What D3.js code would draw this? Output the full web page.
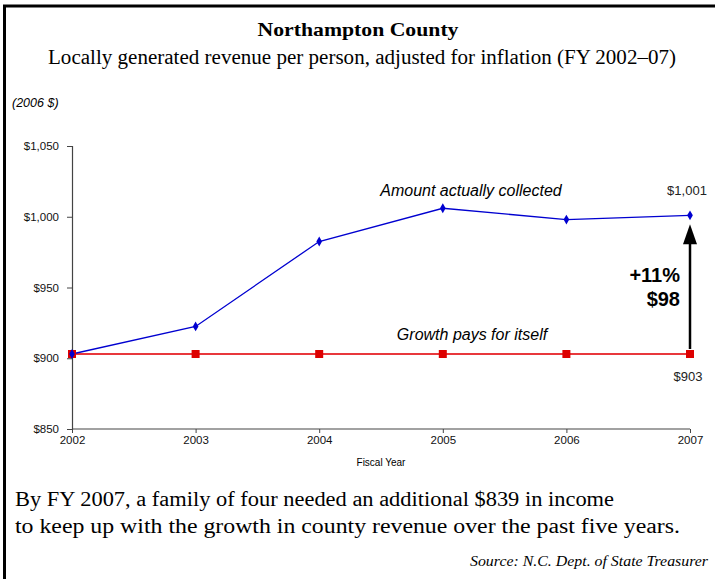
<!DOCTYPE html>
<html><head><meta charset="utf-8">
<script src="https://cdn.jsdelivr.net/npm/d3@7"></script>
<style>body{margin:0;background:#fff}</style>
</head><body>
<script>
const years = [2002, 2003, 2004, 2005, 2006, 2007];
const collected = [903, 922.5, 982.5, 1006, 998, 1001];
const growthPays = [903, 903, 903, 903, 903, 903];
const yTicks = [850, 900, 950, 1000, 1050];

const W = 715, H = 579;
const svg = d3.select("body").append("svg").attr("width", W).attr("height", H);
svg.append("rect").attr("width", W).attr("height", H).attr("fill", "#fff");
// frame
svg.append("line").attr("x1", 3).attr("x2", W).attr("y1", 6).attr("y2", 6).attr("stroke", "#000").attr("stroke-width", 3);
svg.append("line").attr("x1", 4.5).attr("x2", 4.5).attr("y1", 5).attr("y2", H).attr("stroke", "#000").attr("stroke-width", 3);

const serif = "'Liberation Serif', 'Times New Roman', serif";
const sans = "'Liberation Sans', Arial, sans-serif";

function serifText(txt, xPos, yPos, size, len, anchor, opts) {
  const t = svg.append("text").attr("x", xPos).attr("y", yPos).attr("text-anchor", anchor || "start")
    .style("font-family", serif).style("font-size", size + "px")
    .attr("textLength", len).attr("lengthAdjust", "spacingAndGlyphs").text(txt);
  if (opts && opts.bold) t.style("font-weight", "bold");
  if (opts && opts.italic) t.style("font-style", "italic");
  return t;
}

serifText("Northampton County", 358, 36, 19, 201, "middle", {bold: true});
serifText("Locally generated revenue per person, adjusted for inflation (FY 2002–07)", 362, 64, 20, 628, "middle");
svg.append("text").attr("x", 12).attr("y", 107)
  .style("font-family", sans).style("font-style", "italic").style("font-size", "12.5px").text("(2006 $)");

const x = d3.scalePoint().domain(years).range([72, 690]);
const y = d3.scaleLinear().domain([850, 1050]).range([429, 146]);

const yAxis = svg.append("g").attr("transform", "translate(72,0)")
  .call(d3.axisLeft(y).tickValues(yTicks).tickSize(5).tickPadding(8).tickFormat(d => "$" + d3.format(",")(d)));
const xAxis = svg.append("g").attr("transform", "translate(0,429)")
  .call(d3.axisBottom(x).tickSize(4).tickPadding(3).tickFormat(d => String(d)));
[yAxis, xAxis].forEach(g => {
  g.select(".domain").attr("stroke", "#444").attr("stroke-width", 1.2);
  g.selectAll(".tick line").attr("stroke", "#444");
  g.selectAll("text").style("font-family", sans).style("font-size", "11.5px").attr("fill", "#111");
});
xAxis.select(".domain").attr("d", "M72,0H690");

svg.append("text").attr("x", 381).attr("y", 466).attr("text-anchor", "middle")
  .style("font-family", sans).style("font-size", "10px").text("Fiscal Year");

const line = d3.line().x((d, i) => x(years[i])).y(d => y(d));
svg.append("path").datum(growthPays).attr("d", line).attr("fill", "none").attr("stroke", "#e8383c").attr("stroke-width", 2);
svg.append("path").datum(collected).attr("d", line).attr("fill", "none").attr("stroke", "#0000d0").attr("stroke-width", 1.3);

svg.selectAll(".sq").data(growthPays).enter().append("rect")
  .attr("x", (d, i) => x(years[i]) - 4).attr("y", d => y(d) - 4).attr("width", 8).attr("height", 8).attr("fill", "#dd0000");
svg.selectAll(".dm").data(collected).enter().append("path")
  .attr("d", d3.symbol().type(d3.symbolDiamond).size(28))
  .attr("transform", (d, i) => `translate(${x(years[i])},${y(d)})`).attr("fill", "#0000d0");

svg.append("text").attr("x", 471).attr("y", 196).attr("text-anchor", "middle")
  .style("font-family", sans).style("font-style", "italic").style("font-size", "16px").text("Amount actually collected");
svg.append("text").attr("x", 472).attr("y", 340).attr("text-anchor", "middle")
  .style("font-family", sans).style("font-style", "italic").style("font-size", "16px").text("Growth pays for itself");

svg.append("text").attr("x", 687).attr("y", 195).attr("text-anchor", "middle")
  .style("font-family", sans).style("font-size", "13px").attr("fill", "#222").text("$" + d3.format(",")(collected[5]));
svg.append("text").attr("x", 688).attr("y", 381).attr("text-anchor", "middle")
  .style("font-family", sans).style("font-size", "13px").attr("fill", "#222").text("$" + growthPays[5]);

// arrow
const ax = x(2007);
svg.append("line").attr("x1", ax).attr("x2", ax).attr("y1", y(903) - 5).attr("y2", y(1001) + 25)
  .attr("stroke", "#000").attr("stroke-width", 2.5);
svg.append("path").attr("d", `M${ax},${y(1001) + 9}L${ax - 7},${y(1001) + 29}L${ax + 7},${y(1001) + 29}Z`).attr("fill", "#000");

svg.append("text").attr("x", 680).attr("y", 282).attr("text-anchor", "end")
  .style("font-family", sans).style("font-weight", "bold").style("font-size", "20px").text("+11%");
svg.append("text").attr("x", 680).attr("y", 306).attr("text-anchor", "end")
  .style("font-family", sans).style("font-weight", "bold").style("font-size", "20px").text("$98");

serifText("By FY 2007, a family of four needed an additional $839 in income", 15, 506, 20, 599, "start");
serifText("to keep up with the growth in county revenue over the past five years.", 15, 533, 20, 665, "start");
serifText("Source: N.C. Dept. of State Treasurer", 708, 566, 15, 238, "end", {italic: true});
</script>
</body></html>
